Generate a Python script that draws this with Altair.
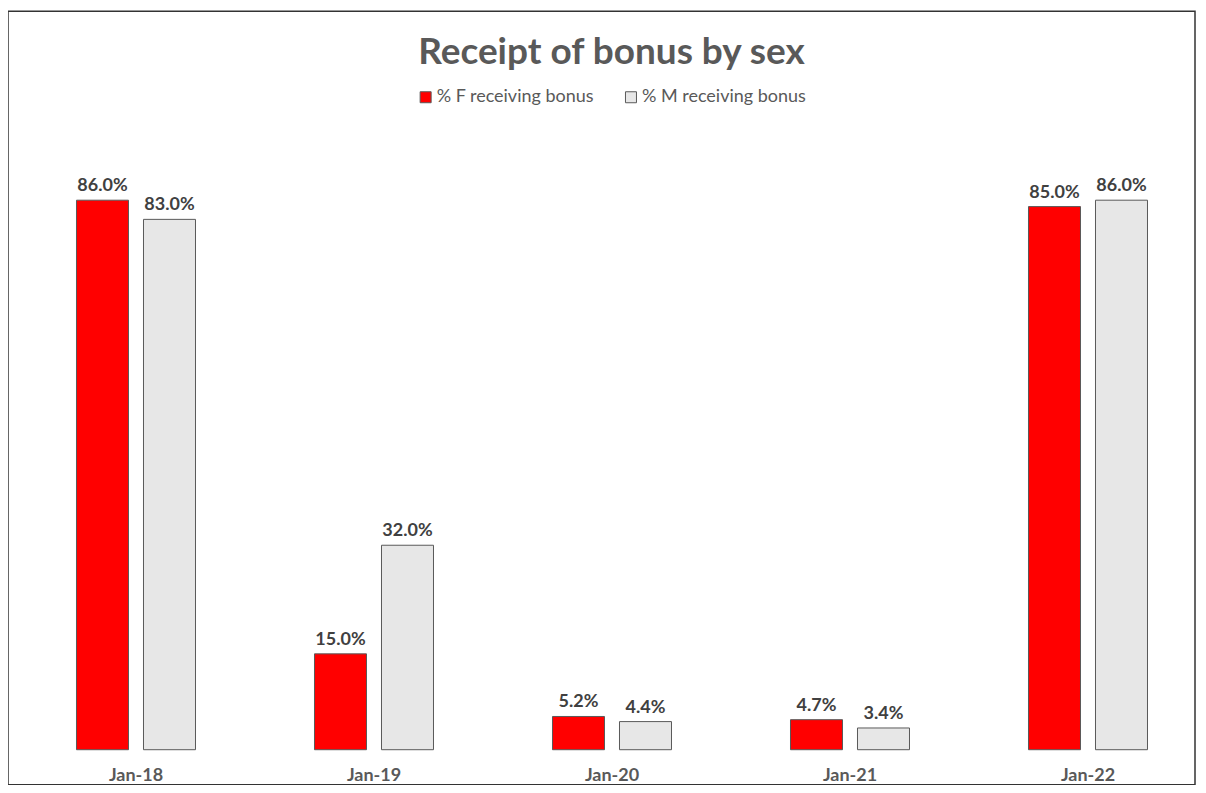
import altair as alt
import pandas as pd

periods = ["Jan-18", "Jan-19", "Jan-20", "Jan-21", "Jan-22"]
series = ["% F receiving bonus", "% M receiving bonus"]
f_vals = [0.86, 0.15, 0.052, 0.047, 0.85]
m_vals = [0.83, 0.32, 0.044, 0.034, 0.86]
colors = ["#ff0000", "#e7e7e7"]

rows = []
for p, f, m in zip(periods, f_vals, m_vals):
    rows.append({"period": p, "series": series[0], "value": f})
    rows.append({"period": p, "series": series[1], "value": m})
df = pd.DataFrame(rows)

W = 1188
H = 774
BASE = 739
FONT = "Lato"

xscale = alt.Scale(domain=periods, range=[9, 1200], paddingInner=0.5, paddingOuter=0.25)
yscale = alt.Scale(domain=[0, 1], range=[BASE, BASE - 639.5])
xoff = alt.XOffset("series:N", sort=series,
                   scale=alt.Scale(domain=series, paddingInner=0.224, paddingOuter=0))

x_enc = alt.X("period:N", sort=periods, scale=xscale,
              axis=alt.Axis(title=None, offset=BASE - H, labelPadding=17, domain=False,
                            ticks=False, labelAngle=0, labelFont=FONT, labelFontWeight="bold",
                            labelFontSize=18, labelColor="#595959"))
y_enc = alt.Y("value:Q", scale=yscale, axis=None)

bars = alt.Chart(df).mark_bar(stroke="#595959", strokeWidth=1).encode(
    x=x_enc,
    xOffset=xoff,
    y=y_enc,
    color=alt.Color("series:N", sort=series,
                    scale=alt.Scale(domain=series, range=colors),
                    legend=alt.Legend(orient="none", legendX=409, legendY=77,
                                      direction="horizontal", title=None,
                                      symbolType="square", symbolSize=121,
                                      symbolStrokeColor="#595959", symbolStrokeWidth=1,
                                      labelFont=FONT, labelFontSize=18, labelColor="#595959",
                                      labelLimit=400,
                                      columnPadding=27.5, labelOffset=2, padding=0)),
)

labels = alt.Chart(df).mark_text(dy=-9, baseline="alphabetic", font=FONT, fontWeight="bold",
                                 fontSize=18, color="#404040").encode(
    x=alt.X("period:N", sort=periods, scale=xscale),
    xOffset=xoff,
    y=y_enc,
    text=alt.Text("value:Q", format=".1%"),
)

chart = alt.layer(bars, labels).properties(
    width=W,
    height=H,
    padding={"top": 3, "left": 0, "right": 0, "bottom": 0},
    title=alt.Title("Receipt of bonus by sex", font=FONT, fontSize=37, fontWeight="bold",
                    color="#595959", anchor="middle", baseline="alphabetic", offset=-90, dx=10),
).configure_view(stroke="#333333", strokeWidth=1.5)

chart.save("out.html", embed_options={"renderer": "svg", "actions": False})
